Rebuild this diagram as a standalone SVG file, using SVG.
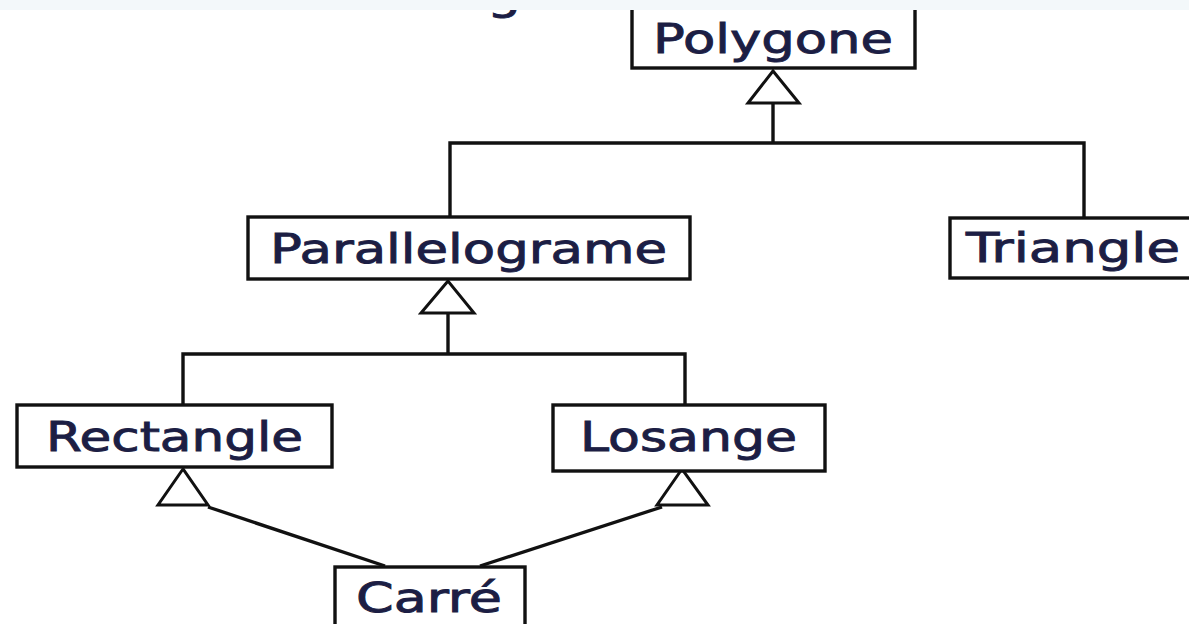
<svg xmlns="http://www.w3.org/2000/svg" width="1189" height="624" viewBox="0 0 1189 624">
  <style>
    .box { fill: #ffffff; stroke: #111111; stroke-width: 3.4; }
    .lbl { font-family: "DejaVu Sans", Verdana, sans-serif; font-size: 40px; fill: #1c1e44; stroke: #1c1e44; stroke-width: 0.9; }
    .wire { fill: none; stroke: #111111; stroke-width: 3.4; }
    .head { fill: #ffffff; stroke: #111111; stroke-width: 3; stroke-linejoin: miter; }
  </style>
  <rect x="0" y="0" width="1189" height="624" fill="#ffffff"/>

  <!-- title fragment above the band -->
  <text class="lbl" x="487" y="9" textLength="34" lengthAdjust="spacingAndGlyphs">g</text>

  <!-- generalisation connectors -->
  <g id="connectors">
    <!-- Polygone children -->
    <polygon class="head" points="773,71 748,103 799,103"/>
    <polyline class="wire" points="773,103 773,143"/>
    <polyline class="wire" points="450,217 450,143 1084,143 1084,218"/>
    <!-- Parallelograme children -->
    <polygon class="head" points="448,281 421,313 474,313"/>
    <polyline class="wire" points="448,313 448,354"/>
    <polyline class="wire" points="183,405 183,354 685,354 685,405"/>
    <!-- Carré parents -->
    <polygon class="head" points="183,469 158,505 208,505"/>
    <line class="wire" x1="208" y1="507" x2="385" y2="566"/>
    <polygon class="head" points="682,469 657,505 708,505"/>
    <line class="wire" x1="662" y1="507" x2="480" y2="566"/>
  </g>

  <g id="node-polygone">
    <rect class="box" x="632" y="-10" width="283" height="78"/>
    <text class="lbl" x="653" y="53" textLength="240" lengthAdjust="spacingAndGlyphs">Polygone</text>
  </g>

  <g id="node-parallelograme">
    <rect class="box" x="248" y="217" width="442" height="62"/>
    <text class="lbl" x="270" y="263" textLength="397" lengthAdjust="spacingAndGlyphs">Parallelograme</text>
  </g>

  <g id="node-triangle">
    <rect class="box" x="950" y="218" width="260" height="60"/>
    <text class="lbl" x="966" y="262" textLength="214" lengthAdjust="spacingAndGlyphs">Triangle</text>
  </g>

  <g id="node-rectangle">
    <rect class="box" x="17" y="405" width="315" height="62"/>
    <text class="lbl" x="46" y="451" textLength="257" lengthAdjust="spacingAndGlyphs">Rectangle</text>
  </g>

  <g id="node-losange">
    <rect class="box" x="553" y="405" width="272" height="66"/>
    <text class="lbl" x="580" y="451" textLength="217" lengthAdjust="spacingAndGlyphs">Losange</text>
  </g>

  <g id="node-carre">
    <rect class="box" x="335" y="567" width="190" height="80"/>
    <text class="lbl" x="356" y="612" textLength="146" lengthAdjust="spacingAndGlyphs">Carré</text>
  </g>

  <!-- pale band along the top edge -->
  <rect x="0" y="0" width="1189" height="10" fill="#f3f8fa"/>
</svg>
